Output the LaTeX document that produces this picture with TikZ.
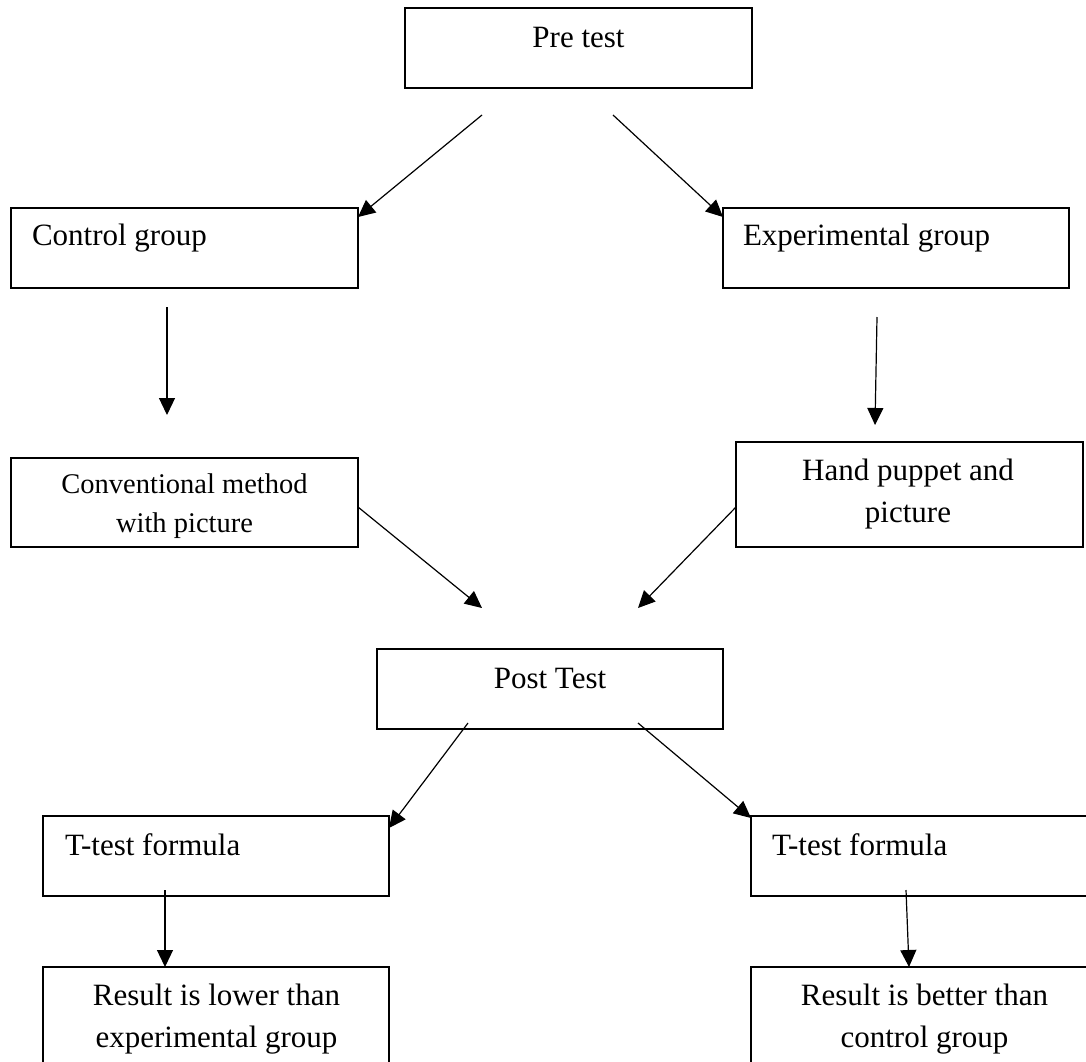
\documentclass[tikz,border=0pt]{standalone}
\usepackage{fontspec}
\setmainfont{Liberation Serif}
\usetikzlibrary{arrows.meta}
\begin{document}
\begin{tikzpicture}[x=1pt,y=-1pt,
  box/.style={draw, line width=1.4pt, rectangle, inner sep=0pt, outer sep=0pt, anchor=north west},
  txt/.style={inner sep=0pt, outer sep=0pt, font=\fontsize{31}{38}\selectfont},
  stxt/.style={inner sep=0pt, outer sep=0pt, font=\fontsize{28.5}{36}\selectfont},
  conn/.style={line width=1.2pt, -{Triangle[length=17pt,width=16pt]}}]
\useasboundingbox (0,0) rectangle (1086,1061);
\fill[white] (0,0) rectangle (1086,1061);
% boxes
\node[box, minimum width=347pt, minimum height=80pt] (pre) at (405,8) {};
\node[box, minimum width=347pt, minimum height=80pt] (ctrl) at (11,208) {};
\node[box, minimum width=346pt, minimum height=80pt] (exp) at (723,208) {};
\node[box, minimum width=347pt, minimum height=89pt] (conv) at (11,458) {};
\node[box, minimum width=347pt, minimum height=105pt] (hand) at (736,442) {};
\node[box, minimum width=346pt, minimum height=80pt] (post) at (377,649) {};
\node[box, minimum width=346pt, minimum height=80pt] (tl) at (43,816) {};
\node[box, minimum width=347pt, minimum height=80pt] (tr) at (751,816) {};
\node[box, minimum width=346pt, minimum height=110pt] (rl) at (43,967) {};
\node[box, minimum width=347pt, minimum height=110pt] (rr) at (751,967) {};
% texts
\node[txt, anchor=base] (pret) at (578.5,47) {Pre test};
\node[txt, anchor=base west] (ctrlt) at (32,245) {Control group};
\node[txt, anchor=base west] (expt) at (743,245) {Experimental group};
\node[stxt, anchor=base] (conv1) at (184.5,493) {Conventional method};
\node[stxt, anchor=base] (conv2) at (184.5,532) {with picture};
\node[txt, anchor=base] (hand1) at (908,480) {Hand puppet and};
\node[txt, anchor=base] (hand2) at (908,522) {picture};
\node[txt, anchor=base] (postt) at (550,688) {Post Test};
\node[txt, anchor=base west] (tlt) at (65,855) {T-test formula};
\node[txt, anchor=base west] (trt) at (772,855) {T-test formula};
\node[txt, anchor=base] (rl1) at (216.5,1005) {Result is lower than};
\node[txt, anchor=base] (rl2) at (216.5,1047) {experimental group};
\node[txt, anchor=base] (rr1) at (924.5,1005) {Result is better than};
\node[txt, anchor=base] (rr2) at (924.5,1047) {control group};
% connector start points
\coordinate (s1) at (482,115);
\coordinate (s2) at (613,115);
\coordinate (s3) at (167,307);
\coordinate (s4) at (877,317);
\coordinate (s5) at (358,507);
\coordinate (s6) at (736,507);
\coordinate (s7) at (468,723);
\coordinate (s8) at (638,723);
\coordinate (s9) at (165,890);
\coordinate (s10) at (906,890);
% connector end points
\coordinate (e1) at (358,217);
\coordinate (e2) at (723,217);
\coordinate (e3) at (167,415);
\coordinate (e4) at (875,425);
\coordinate (e5) at (482,608);
\coordinate (e6) at (638,608);
\coordinate (e7) at (389,828);
\coordinate (e8) at (751,818);
\coordinate (e9) at (165,967);
\coordinate (e10) at (909,967);
\draw[conn] (s1) -- (e1);
\draw[conn] (s2) -- (e2);
\draw[conn] (s3) -- (e3);
\draw[conn] (s4) -- (e4);
\draw[conn] (s5) -- (e5);
\draw[conn] (s6) -- (e6);
\draw[conn] (s7) -- (e7);
\draw[conn] (s8) -- (e8);
\draw[conn] (s9) -- (e9);
\draw[conn] (s10) -- (e10);
\end{tikzpicture}
\end{document}
